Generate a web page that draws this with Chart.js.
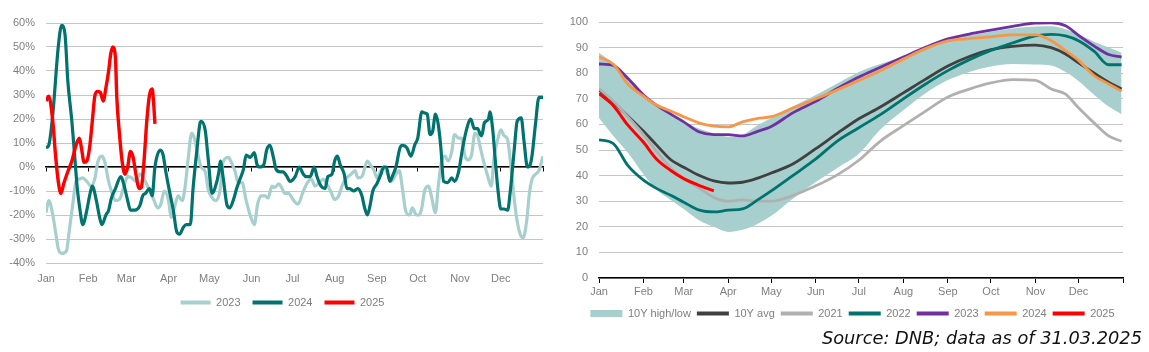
<!DOCTYPE html>
<html>
<head>
<meta charset="utf-8">
<script src="https://cdn.jsdelivr.net/npm/chart.js@4.4.0/dist/chart.umd.min.js"></script>
<style>
  body { margin: 0; background: #fff; width: 1149px; height: 352px; position: relative; overflow: hidden; }
  #leftChart { position: absolute; left: 0; top: 0; }
  #rightChart { position: absolute; left: 560px; top: 0; }
  #source { position: absolute; right: 7px; top: 326px; font: italic 17.8px "DejaVu Sans", sans-serif; color: #111; line-height: 24px; white-space: nowrap; }
</style>
</head>
<body>
<canvas id="leftChart" width="555" height="318"></canvas>
<canvas id="rightChart" width="589" height="329"></canvas>
<div id="source">Source: DNB; data as of 31.03.2025</div>
<script>
// x axis is day of year (0 = 1 Jan)
const monthStarts = [0, 31, 59, 90, 120, 151, 181, 212, 243, 273, 304, 334];
const monthNames = ["Jan", "Feb", "Mar", "Apr", "May", "Jun", "Jul", "Aug", "Sep", "Oct", "Nov", "Dec"];
const leftTicks = [-40, -30, -20, -10, 0, 10, 20, 30, 40, 50, 60];
const rightTicks = [0, 10, 20, 30, 40, 50, 60, 70, 80, 90, 100];

// left chart: [day, % change]
const s2023 = [[0,-19],[2,-14],[5,-20],[7,-27],[9,-34],[11.5,-36],[15,-35],[17,-27],[20,-14],[22,-6],[24.5,-5],[27,-4.5],[30,-6],[33,-8],[36,-4.5],[38,2],[41,4.5],[43,2.5],[46,-6],[48,-10],[51,-14],[54,-13.5],[57,-8.5],[60,-4],[63,-4.5],[66,-6],[69,-3],[72,-5],[75,-8.5],[79,-13.5],[82,-17],[84,-16],[87,-10],[90,-14],[92,-21],[94.7,-16],[97,-12],[100,-14],[102,-9],[104.5,4],[107,14],[109,12],[112,4],[114,0],[117,-2],[119,-9],[123,-13.5],[125,-14],[128,-9],[130,2],[134,4],[136,2],[139,-2],[141,-6.5],[144,-6.5],[147,-14],[150.5,-21],[153,-24],[155.4,-15.5],[158,-12],[161,-12],[163,-13],[166,-8],[168,-8.5],[171,-7],[173,-8.5],[175.5,-11],[178,-11],[182,-14],[185,-15.5],[189,-10],[192.6,-6],[195,-5],[197.5,-8],[200.6,-6.5],[203.6,-5],[206,-7],[209,-10],[212,-13.5],[215,-12],[218,-7],[221,-4.5],[224,-3],[227,-1.5],[229,-4.5],[232,-4],[236,2.5],[238,1],[241,-1.5],[243,-4.5],[246,-1.5],[248,0],[251,-3],[253.7,-6],[257,-3],[259.4,-1.5],[262,-10],[264,-18],[267,-20],[269,-17],[272,-20],[274,-20],[276,-17],[278,-10],[281,-8],[283,-12],[286,-19],[288,-8.5],[290.5,2.5],[293,4.5],[295.4,2.5],[298,6.5],[300,13.5],[303,12],[305,12],[308,4],[310,3],[312.5,5],[315,14],[317,13],[319,8],[322,1],[324,-3],[327,-8],[329,4],[332,12],[334,15.5],[336.5,13],[339,11.5],[341,2.5],[344,-14],[346,-22.5],[349,-29],[350.4,-29.5],[353,-22.5],[355,-11],[357,-5],[359.5,-3],[362,-1.5],[365,4.5]];
const s2024 = [[0,8],[2,9],[5,22],[9,50],[11.5,59],[14,55],[16,36],[19,19],[21,5],[23,-9],[25,-18],[27,-24],[30,-18],[32,-12],[34,-8],[37,-14],[39,-20],[41,-24],[44,-20],[46,-18],[48,-13],[51,-9],[55,-4],[57,-7],[60,-14],[62,-18],[65,-18],[69,-16],[71,-12],[73,-11],[76,-9],[78,-12],[80,0],[84,7],[86,5],[88,-2],[91,-11],[93.5,-18],[96,-27],[98,-28],[101,-25],[103,-24],[106,-24],[108,-9],[111,8],[113,18],[114,19],[117,15],[119,4],[122,-11],[124,-9],[127,-2],[128,2.5],[130,-4],[133,-16],[135,-17],[138,-13],[140,-9],[142.5,-5],[145,-1],[147,5],[150,4],[153,6],[155,1],[157,0],[160,1],[162,7],[164.5,9],[167,4],[169,-1],[172,-2],[174,-2],[177,-4],[179,-6],[183,-4],[186,0],[189,-3],[191,-4],[194,-4],[197,0],[199,-4],[202,-8],[205,-9],[207,-4],[210,-3],[212,2.5],[214,4.5],[216,1],[219,-3],[221,-9],[223,-9],[226,-10],[229,-9],[232,-12],[234,-17],[236,-20],[238,-16],[240,-10],[243,-7],[246,-3],[248,0],[250,0],[252.5,-6],[255,-3],[257,0],[260,8],[262,9],[265,8],[268,4.5],[271,9.5],[273,12],[276,23],[278,22.5],[280,22],[282,13.5],[284,15],[286,22],[288,18],[290,8],[292,-6],[295,-6.5],[298,-4.5],[300,-6],[303,-2],[306,8],[309,16],[312,20],[314.5,16],[317,16],[319,13.5],[320,13],[322,18.5],[325,20],[326,23],[328,16],[330,2.5],[332,-10],[334,-17.5],[336.5,-17.5],[339,-18],[341,-10],[344,8],[346,19],[349,20.5],[351,11],[353.6,0],[355.6,1],[357,5],[359.5,18],[362,29],[365,29]];
const s2025 = [[0,27.5],[2,29.5],[5,19],[7,5],[9,-6],[11,-11],[13,-7],[16,-2],[19,2.5],[22,9],[24.5,12],[26,8],[28,2],[30,2.5],[32,8],[34,19],[36,30],[38,31.5],[40,31],[42,27.5],[44,33],[46,40],[47.5,47],[49,50],[51,45.5],[52,29],[54,13.5],[56,2],[58,-3],[60,0],[62,6.5],[64,4],[66,-3],[68.5,-9],[70,-8.5],[72,2.5],[74,19],[76,30],[78,32.5],[79,27],[80,18]];

// right chart: values at these days
const rightDays = [0, 10, 20, 31, 40, 50, 59, 70, 80, 90, 100, 110, 120, 135, 151, 166, 181, 196, 212, 227, 243, 258, 273, 288, 304, 315, 325, 334, 345, 355, 364];
const bandHigh = [88, 84, 79, 72, 68, 64.3, 61, 58.3, 56.5, 55.2, 56, 59.5, 62.5, 67, 71.5, 76, 80.5, 83.6, 86.5, 89.8, 93.3, 94.8, 96.2, 97.5, 98.2, 98.3, 97.2, 95.2, 92.3, 90, 88];
const bandLow = [62.5, 55.5, 49, 40.5, 34.5, 30.5, 27, 22.5, 20, 18, 18.8, 21, 24.3, 31, 37.5, 43, 48.5, 58, 65.5, 72, 77.3, 80.5, 82.6, 83.6, 83.4, 83, 80.5, 77, 71.5, 67, 64];
const avg10y = [73.5, 68.6, 63.3, 57.3, 52, 46.2, 43.3, 40, 37.9, 37.1, 37.4, 38.9, 41, 44.5, 50.5, 56.5, 62.2, 66.8, 72.3, 77.5, 82.8, 86.5, 89.2, 90.5, 91, 90, 87.5, 84, 80, 76.5, 73.8];
const y2021 = [74, 69, 63, 56, 49.5, 43, 39, 35, 31.5, 30, 30.5, 30, 30, 32.2, 36, 40.3, 46, 53.5, 59.5, 65, 70.7, 73.8, 76.2, 77.5, 77.2, 73.8, 71.8, 66.5, 60.5, 55.5, 53.4];
const y2022 = [54, 52.5, 44, 38.2, 35, 32.3, 29.6, 26.5, 25.8, 26.5, 27, 30.3, 34, 40, 46.5, 53.5, 58.7, 63.8, 70, 75.6, 81, 85.3, 88.9, 91.8, 94.6, 95.2, 94.6, 92.7, 88.5, 83.3, 83.3];
const y2023 = [83.6, 83, 78, 71.5, 67.5, 64, 61, 57, 56, 56, 55.5, 57.2, 59.2, 64.5, 69, 74, 78.5, 82.3, 86.3, 90, 93.4, 95.3, 96.8, 98.3, 99.6, 99.7, 98.5, 94.8, 90.6, 87.3, 86.3];
const y2024 = [86.3, 83.5, 75.8, 71, 67.6, 65.2, 63, 60.5, 59.3, 59, 61, 62.3, 63, 66.4, 70, 73.5, 77.2, 81, 85.5, 89.5, 92.6, 93.5, 94.2, 95, 95, 92.7, 88.8, 85, 79, 75.8, 73];
const y2025 = [72, 67.3, 59.8, 53, 46.5, 42, 38.8, 36.1, 34];

const FONT = { family: "'Liberation Sans', Arial, sans-serif", size: 11 };
const TEXT = "#7f7f7f";
const GRID = "#c6c6c6";
const TEAL_LIGHT = "#a7cfce";
const TEAL = "#00736f";
const RED = "#ff0000";

Chart.defaults.font = FONT;
Chart.defaults.color = TEXT;

// nudge the legend row sideways so it sits under the plot like the original
const legendShift = {
  id: "legendShift",
  afterLayout(chart, args, opts) {
    chart.legend.left += opts.dx;
    chart.legend.right += opts.dx;
  },
};

function pairs(list) {
  return list.map((p) => ({ x: p[0], y: p[1] }));
}
function onDays(vals) {
  return vals.map((v, i) => ({ x: rightDays[i], y: v }));
}
function monthTicks(withEnd) {
  return (scale) => {
    const vals = withEnd ? monthStarts.concat([365]) : monthStarts;
    scale.ticks = vals.map((v) => ({ value: v }));
  };
}
function legendItems(chart) {
  return chart.data.datasets
    .map((ds, i) => ({
      text: ds.label,
      datasetIndex: i,
      fillStyle: ds.backgroundColor,
      strokeStyle: ds.borderColor,
      lineWidth: ds.fill ? 0 : 4,
      pointStyle: ds.fill ? "rect" : "line",
      fontColor: TEXT,
    }))
    .filter((it) => it.text);
}
function line(label, data, color, width, order) {
  return {
    label: label,
    data: data,
    borderColor: color,
    backgroundColor: color,
    borderWidth: width,
    pointRadius: 0,
    cubicInterpolationMode: "monotone",
    fill: false,
    order: order,
  };
}

// left chart: % change
new Chart(document.getElementById("leftChart"), {
  type: "line",
  data: {
    datasets: [
      line("2023", pairs(s2023), TEAL_LIGHT, 3.2, 3),
      line("2024", pairs(s2024), TEAL, 3.2, 2),
      line("2025", pairs(s2025), RED, 3.4, 1),
    ],
  },
  plugins: [legendShift],
  options: {
    responsive: false,
    animation: false,
    devicePixelRatio: 1,
    layout: { padding: { left: 0, right: 12, top: 23, bottom: 0 } },
    scales: {
      x: {
        type: "linear",
        min: 0,
        max: 365,
        afterBuildTicks: monthTicks(false),
        afterFit: (s) => { s.height = 22; },
        ticks: { callback: (v, i) => monthNames[i], padding: 9, maxRotation: 0, autoSkip: false },
        grid: { display: false, drawTicks: false },
        border: { display: false },
      },
      x2: {
        type: "linear",
        position: { y: 0 },
        min: 0,
        max: 365,
        afterBuildTicks: monthTicks(true),
        ticks: { display: false },
        grid: { drawOnChartArea: false, drawTicks: true, tickLength: 4, color: "#000", lineWidth: 1 },
        border: { display: true, color: "#000", width: 1.5 },
      },
      y: {
        min: -40,
        max: 60,
        afterBuildTicks: (s) => { s.ticks = leftTicks.map((v) => ({ value: v })); },
        afterFit: (s) => { s.width = 46; },
        ticks: { callback: (v) => v + "%", padding: 11 },
        grid: { color: GRID, lineWidth: 1, drawTicks: false },
        border: { display: false },
      },
    },
    plugins: {
      tooltip: { enabled: false },
      legendShift: { dx: 11 },
      legend: {
        position: "bottom",
        labels: {
          usePointStyle: true,
          pointStyleWidth: 30,
          boxHeight: 4,
          padding: 12,
          generateLabels: legendItems,
        },
      },
    },
  },
});

// right chart: 10Y band and yearly lines
const band = {
  label: "10Y high/low",
  data: onDays(bandHigh),
  borderColor: TEAL_LIGHT,
  backgroundColor: TEAL_LIGHT,
  borderWidth: 0,
  pointRadius: 0,
  cubicInterpolationMode: "monotone",
  fill: "+1",
  order: 10,
};
const bandBottom = {
  label: "",
  data: onDays(bandLow),
  borderColor: TEAL_LIGHT,
  backgroundColor: TEAL_LIGHT,
  borderWidth: 0,
  pointRadius: 0,
  cubicInterpolationMode: "monotone",
  fill: false,
  order: 11,
};

new Chart(document.getElementById("rightChart"), {
  type: "line",
  data: {
    datasets: [
      band,
      bandBottom,
      line("10Y avg", onDays(avg10y), "#404040", 2.8, 6),
      line("2021", onDays(y2021), "#b0b0b0", 2.8, 5),
      line("2022", onDays(y2022), TEAL, 2.8, 4),
      line("2023", onDays(y2023), "#7030a0", 2.8, 3),
      line("2024", onDays(y2024), "#f79646", 2.8, 2),
      line("2025", onDays(y2025), RED, 3, 1),
    ],
  },
  plugins: [legendShift],
  options: {
    responsive: false,
    animation: false,
    devicePixelRatio: 1,
    layout: { padding: { left: 0, right: 26, top: 22, bottom: 0 } },
    scales: {
      x: {
        type: "linear",
        min: 0,
        max: 365,
        afterBuildTicks: monthTicks(true),
        afterFit: (s) => { s.height = 24; },
        ticks: { callback: (v, i) => monthNames[i] || "", padding: 2, maxRotation: 0, autoSkip: false },
        grid: { drawOnChartArea: false, drawTicks: true, tickLength: 5, color: "#000", lineWidth: 1 },
        border: { display: true, color: "#000", width: 1.5 },
      },
      y: {
        min: 0,
        max: 100,
        afterBuildTicks: (s) => { s.ticks = rightTicks.map((v) => ({ value: v })); },
        afterFit: (s) => { s.width = 39; },
        ticks: { padding: 11 },
        grid: { color: GRID, lineWidth: 1, drawTicks: false },
        border: { display: false },
      },
    },
    plugins: {
      tooltip: { enabled: false },
      legendShift: { dx: 11 },
      legend: {
        position: "bottom",
        labels: {
          usePointStyle: true,
          pointStyleWidth: 32,
          boxHeight: 7,
          padding: 6,
          generateLabels: legendItems,
        },
      },
    },
  },
});
</script>
</body>
</html>
